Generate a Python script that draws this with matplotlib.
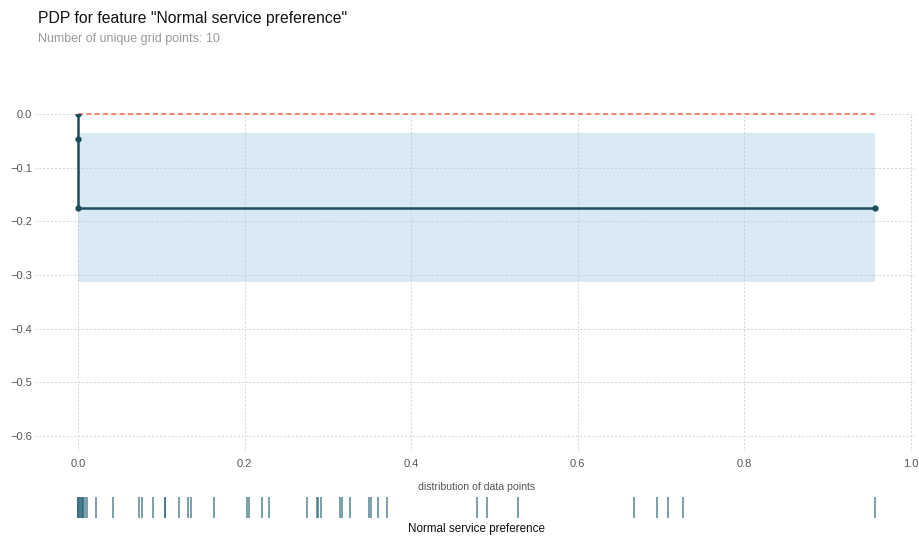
import matplotlib
matplotlib.use("Agg")
import matplotlib.pyplot as plt
import numpy as np

plt.rcParams['font.family'] = ['Liberation Sans', 'DejaVu Sans']

# PDP curve (grid points collapse onto x=0 except the last one)
grid_x = [0.0, 0.0, 0.0, 0.957]
pdp_y = [0.0, -0.047, -0.175, -0.175]
band_upper = [0.0, -0.036, -0.036, -0.036]
band_lower = [0.0, -0.314, -0.314, -0.314]

# observed feature values for the rug
data_points = [0.0, 0.0, 0.0, 0.0024, 0.0024, 0.0044, 0.0044, 0.0064, 0.0064,
               0.0084, 0.011, 0.0216, 0.0417, 0.0732, 0.0765, 0.0904, 0.1044,
               0.1044, 0.1213, 0.1324, 0.1353, 0.1633, 0.2032, 0.2053, 0.2205,
               0.2297, 0.2745, 0.2865, 0.2885, 0.2917, 0.3145, 0.3166, 0.3265,
               0.3497, 0.3517, 0.3605, 0.3706, 0.4786, 0.4906, 0.5286, 0.6675,
               0.6954, 0.7086, 0.7267, 0.9568]

x_ticks = [0.0, 0.2, 0.4, 0.6, 0.8, 1.0]
y_ticks = [0.0, -0.1, -0.2, -0.3, -0.4, -0.5, -0.6]

title = 'PDP for feature "Normal service preference"'
subtitle = 'Number of unique grid points: 10'
feature_name = 'Normal service preference'

line_color = '#1A4E5D'
W, H = 919, 536
fig = plt.figure(figsize=(W / 100, H / 100), dpi=100)

def frac(left, top, right, bottom):
    return [left / W, 1 - bottom / H, (right - left) / W, (bottom - top) / H]

xlim = (-0.0516, 1.005)

ax = fig.add_axes(frac(35, 114, 915, 452))
ax.set_xlim(*xlim)
ax.set_ylim(-0.63, 0.0)
for s in ax.spines.values():
    s.set_visible(False)
ax.set_xticks(x_ticks)
ax.set_yticks(y_ticks)
ax.set_xticklabels([f'{v:.1f}' for v in x_ticks])
ax.set_yticklabels([f'{v:.1f}'.replace('-', '\u2212') for v in y_ticks])
ax.tick_params(axis='x', length=0, labelsize=8, colors='#555555', pad=5)
ax.tick_params(axis='y', length=0, labelsize=8, colors='#555555', pad=2)
ax.grid(True, color='#d4d4d4', linestyle=(0, (2, 2)), linewidth=0.7)
ax.set_axisbelow(True)

ax.fill_between(grid_x, band_lower, band_upper, color='#9ecae1', alpha=0.4,
                linewidth=0, zorder=1)
ax.plot([grid_x[0], grid_x[-1]], [0, 0], color='#F0705A', linestyle=(0, (3, 2)),
        linewidth=1.2, zorder=2, clip_on=False)
ax.plot(grid_x, pdp_y, color=line_color, linewidth=1.8, marker='o',
        markersize=3.5, zorder=3)

# rug of data points
rax = fig.add_axes(frac(35, 497, 915, 518))
rax.set_xlim(*xlim)
rax.set_ylim(0, 1)
rax.vlines(data_points, 0, 1, color='#2b6578', alpha=0.8, linewidth=1.1)
rax.axis('off')

fig.text(477 / W, 1 - 487 / H, 'distribution of data points', ha='center',
         va='center', fontsize=7.6, color='#555555')
fig.text(477 / W, 1 - 529 / H, feature_name, ha='center', va='center',
         fontsize=8.4, color='#111111')

fig.text(38 / W, 1 - 18 / H, title, ha='left', va='center', fontsize=11.3,
         color='#111111')
fig.text(38 / W, 1 - 39 / H, subtitle, ha='left', va='center', fontsize=9,
         color='#999999')

fig.savefig('out.png', dpi=100, facecolor='white')
